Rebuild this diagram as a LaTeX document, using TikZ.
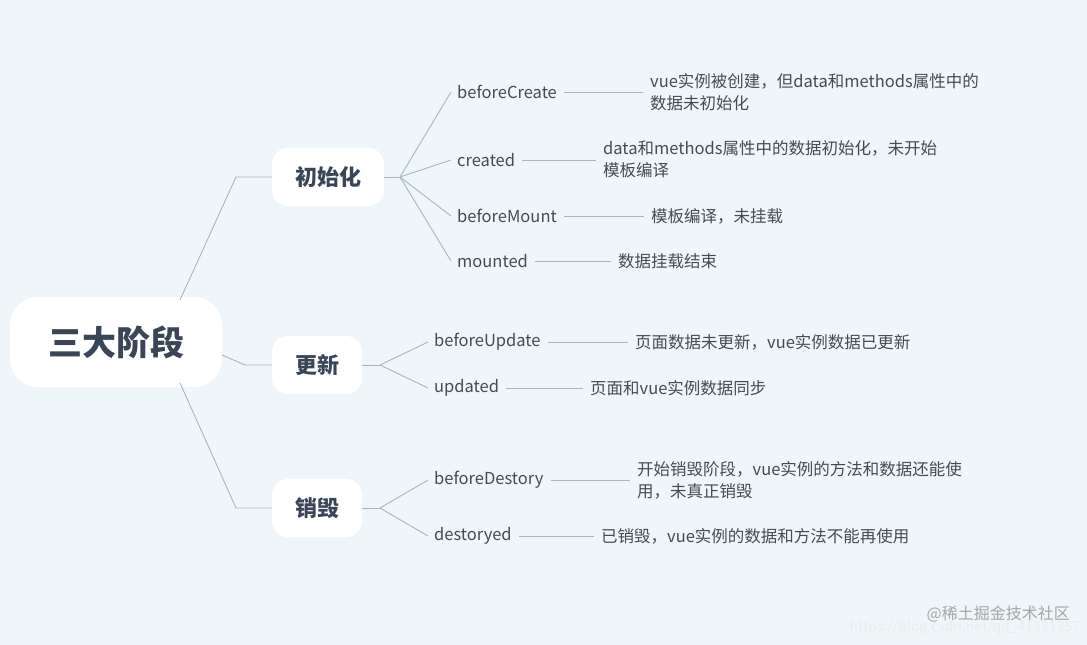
\documentclass[tikz,border=0pt]{standalone}
\usepackage{fontspec}
\setmainfont{Noto Sans CJK SC}
\newfontfamily\wmfont{Noto Sans CJK SC}
\begin{document}
\begin{tikzpicture}[x=1pt,y=-1pt,
  conn/.style={draw=linec,line width=0.9pt},
  rootbox/.style={fill=white,rounded corners=28pt,minimum width=212pt,minimum height=90pt,font=\fontsize{34}{40}\selectfont\bfseries,text=headc},
  midbox/.style={fill=white,rounded corners=16pt,minimum height=58pt,font=\fontsize{22}{26}\selectfont\bfseries,text=headc},
  leaf/.style={anchor=west,inner sep=0pt,font=\fontsize{16.5}{22}\selectfont,text=leafc},
  desc/.style={anchor=west,inner sep=0pt,align=left,font=\fontsize{16.5}{22}\selectfont,text=leafc}]
\definecolor{bgc}{HTML}{EEF6F9}
\definecolor{linec}{HTML}{A9B5BD}
\definecolor{headc}{HTML}{3A4658}
\definecolor{leafc}{HTML}{444B55}
\fill[bgc] (0,0) rectangle (1087,645);
\useasboundingbox (0,0) rectangle (1087,645);
\node[rootbox] (root) at (116,342) {三大阶段};
\node[midbox,minimum width=112pt] (init) at (328,177) {初始化};
\node[midbox,minimum width=90pt] (upd) at (317,365) {更新};
\node[midbox,minimum width=90pt] (des) at (317,508) {销毁};
\coordinate (r1) at (180,300); \coordinate (r1b) at (236,177);
\coordinate (r2) at (222,355); \coordinate (r2b) at (245,365);
\coordinate (r3) at (180,383); \coordinate (r3b) at (236,508);
\draw[conn] (r1) -- (r1b) -- (init.west);
\draw[conn] (r2) -- (r2b) -- (upd.west);
\draw[conn] (r3) -- (r3b) -- (des.west);
% leaves
\node[leaf] (bc) at (457,92) {beforeCreate};
\node[leaf] (cr) at (457,160) {created};
\node[leaf] (bm) at (457,216) {beforeMount};
\node[leaf] (mo) at (457,261) {mounted};
\node[leaf] (bu) at (434,342) {beforeUpdate};
\node[leaf] (ud) at (434,388) {updated};
\node[leaf] (bd) at (434,480) {beforeDestory};
\node[leaf] (dd) at (434,536) {destoryed};
\node[desc] (dbc) at (650,92) {vue实例被创建，但data和methods属性中的\\数据未初始化};
\node[desc] (dcr) at (603,159) {data和methods属性中的数据初始化，未开始\\模板编译};
\node[desc] (dbm) at (651,216) {模板编译，未挂载};
\node[desc] (dmo) at (618,261) {数据挂载结束};
\node[desc] (dbu) at (635,342) {页面数据未更新，vue实例数据已更新};
\node[desc] (dud) at (590,388) {页面和vue实例数据同步};
\node[desc] (dbd) at (637,480) {开始销毁阶段，vue实例的方法和数据还能使\\用，未真正销毁};
\node[desc] (ddd) at (601,536) {已销毁，vue实例的数据和方法不能再使用};
\coordinate (j1) at (400,177);
\coordinate (j2) at (380,365);
\coordinate (j3) at (380,508);
\draw[conn] (init.east) -- (j1);
\draw[conn] (upd.east) -- (j2);
\draw[conn] (des.east) -- (j3);
\foreach \n in {bc,cr,bm,mo} \draw[conn] (j1) -- ([xshift=-6pt]\n.west);
\foreach \n in {bu,ud} \draw[conn] (j2) -- ([xshift=-6pt]\n.west);
\foreach \n in {bd,dd} \draw[conn] (j3) -- ([xshift=-6pt]\n.west);
\foreach \a/\b in {bc/dbc,cr/dcr,bm/dbm,mo/dmo,bu/dbu,ud/dud,bd/dbd,dd/ddd}
  \draw[conn] ([xshift=7pt]\a.east) -- ([xshift=-7pt]\a.east -| \b.west);
% watermark
\node[anchor=east,inner sep=0pt,text=gray!70,font=\wmfont\fontsize{16}{18}\selectfont] (wm1) at (1070,614) {@稀土掘金技术社区};
\node[anchor=east,inner sep=0pt,text=white!85!gray,font=\wmfont\fontsize{14}{16}\selectfont] (wm2) at (1080,628) {https://blog.csdn.net/qq\_41821257};
\end{tikzpicture}
\end{document}
